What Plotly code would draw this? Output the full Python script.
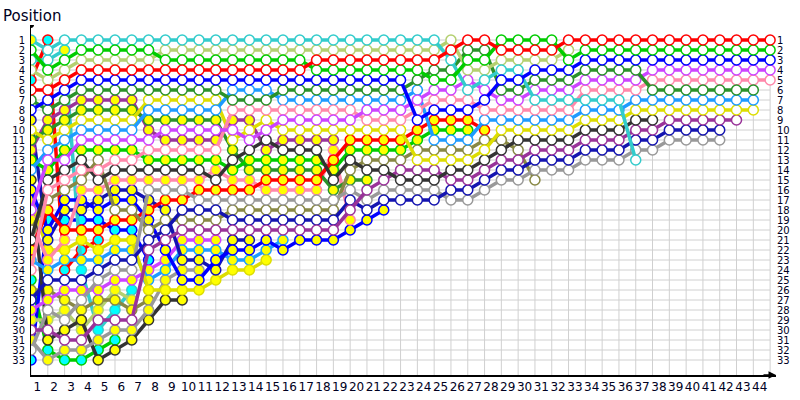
import plotly.graph_objects as go

# lap chart: running position of every car after each lap (lap 0 = starting grid)
laps = list(range(0, 45))
positions = list(range(1, 34))
lap_labels = [str(n) for n in range(1, 45)]

# cars shown with open markers
red = [6, 6, 5, 4] + [4] * 13 + [3] * 8 + [2, 1, 1, 2, 2, 2, 2] + [1] * 13
green = [2, 4, 3, 2, 2, 2, 2, 2] + [3] * 9 + [4] * 7 + [5, 5, 3, 3, 1, 1, 1, 1, 3] + [2] * 12
blue = [8, 7, 6] + [5] * 20 + [9, 8, 8, 8, 7, 5, 5, 4, 4, 4] + [3] * 12
dkgreen = [7, 8, 7] + [6] * 9 + [7, 7, 7] + [6] * 8 + [5, 4, 4, 2, 2, 6, 6, 5, 5, 5] + [4] * 4 + [6] * 7
violet = [18, 13, 13, 11, 11, 11, 11, 11, 10, 10, 10, 10, 10, 11, 10] + [9] * 5 + [8] * 3 \
    + [7, 6, 6, 5, 6, 7, 7, 6, 6, 6] + [5] * 4 + [4] * 8
pink = [24, 16, 15, 14, 14, 13, 13, 12, 12, 12, 12, 12] + [8] * 8 + [9] * 3 \
    + [8, 7, 7, 7, 8, 8, 8, 8, 8, 8] + [6] * 4 + [5] * 8
ltblue = [14, 12, 11, 10, 10, 10, 10, 8, 8, 8, 8, 8, 6, 6, 6] + [7] * 8 \
    + [6, 11, 11, 11, 9, 9, 9, 9, 9, 9] + [8] * 3 + [7] * 8
yellow = [10, 11, 10, 9, 9, 9, 9, 7, 7, 7, 7, 7, 11, 10, 9] + [10] * 8 \
    + [13, 13, 13, 13, 12, 10, 10, 10, 10, 10] + [9] * 3 + [8] * 8
purple = [30, 30, 31, 31, 29, 29, 29, 22, 21] + [20] * 10 \
    + [18, 16, 15, 14, 14, 14, 15, 15, 14, 13, 13, 12, 12, 12] + [11] * 3 + [10, 10] + [9] * 5
dkblue = [27, 25, 25, 25, 24, 23, 23, 21, 20, 18, 18, 18] + [19] * 7 \
    + [17, 18, 17, 17, 17, 17, 16, 16, 15, 14, 14, 13, 13, 13] + [12] * 3 + [11, 11] + [10] * 4
grey = [32, 28, 29, 27, 25, 24, 24, 16, 16, 16] + [17] * 9 \
    + [16, 17, 16, 16, 16, 16, 17, 17, 16, 15, 15, 14, 14, 14] + [13] * 3 + [12, 12] + [11] * 4
black = [21, 15, 14, 13, 15, 14, 14, 14, 14, 14, 14, 15, 13, 12, 11, 12, 12, 12, 15, 13,
         14, 14, 15, 15, 15, 14, 14, 13, 12, 11, 11, 11, 11, 10, 10, 10, 9, 9]
cyan = [1, 2] + [1] * 23 + [3, 6, 5, 4, 4, 7, 7, 7, 7, 7, 7, 13]
yellowgreen = [4, 5, 4] + [3] * 5 + [2] * 17 + [1, 4, 4, 3, 3, 3, 3, 2]
olive = [20, 17, 16, 15, 13, 18, 18, 20, 19, 19, 19, 19] + [18] * 7 \
    + [14, 13, 13, 13, 12, 12, 12, 12, 11, 11, 12, 15]

# cars shown with yellow markers
red_y = [22, 18, 20, 20, 20, 19, 19, 18, 17, 17, 16, 16, 16, 16, 15, 15, 15, 15, 13,
         11, 11, 11, 11, 10, 9, 9, 9, 10]
green_y = [13, 14, 12, 12, 12, 12, 12, 13, 13, 13, 13, 13, 14, 13, 13, 13, 13, 13, 14,
           12, 12, 12, 12, 11, 10, 10, 10]
dkgreen_y = [11, 10, 9, 8, 8, 8, 8, 9, 9, 9, 9, 9, 12, 14, 14, 14, 14, 14, 16, 15, 15]
purple_y = [12, 9, 8, 7, 7, 7, 7, 10, 11, 11, 11, 11, 9, 9, 12, 11, 11, 11, 11]
pink_y = [19, 23, 21, 16, 16, 15, 15, 15, 15, 15, 15, 14, 15, 15, 16, 16, 16, 16, 12, 19]
blue_y = [16, 20, 17, 17, 18, 17, 17, 19, 22, 25, 25, 23, 22, 22, 21, 22, 21, 21, 21, 20, 19, 18]
dkblue_y = [9, 21, 18, 18, 17, 16, 16, 17, 18, 23, 23, 24, 21, 21]
yellow_y = [17, 22, 22, 21, 22, 21, 21, 26, 26, 26, 26, 25, 24, 24, 23]
ltblue_y = [23, 24, 23, 23, 23, 22, 22, 25, 24, 22, 22, 22, 23, 23, 22, 21]
violet_y = [28, 27, 26, 26, 26, 25, 25, 24, 23, 21, 21, 21]
grey_y = [31, 33, 32, 32, 31, 30, 30, 28, 25, 24, 24]
black_y = [15, 31, 30, 29, 33, 32, 31, 29, 27, 27]
olive_y = [26, 26, 27, 28, 27, 27, 28, 27]
yellowgreen_y = [29, 29, 28, 30, 28, 26, 27]

# cars shown with cyan markers
blue_c = [33, 19, 19, 19, 19, 20, 20, 23]
cyan2 = [3, 3, 2, 24, 30, 28, 26]
green_c = [25, 32, 33, 33, 32, 31]
red_c = [5, 1, 24, 22, 21]

# marker fill per lap where it changes along a line (o = open, y = yellow, c = cyan)
cyan_marks = "y" + "o" * (len(cyan) - 1)
cyan2_marks = "ooycccc"

W, Y, C = "#ffffff", "#ffff00", "#00ffff"
fill_codes = {"o": W, "y": Y, "c": C}

cars = [
    (green_c, "#00cc00", C),
    (red_c, "#ff0000", C),
    (blue_c, "#0000ff", C),
    (cyan2, "#33cccc", [fill_codes[m] for m in cyan2_marks]),
    (yellowgreen_y, "#b4d070", Y),
    (olive_y, "#888844", Y),
    (black_y, "#333333", Y),
    (grey_y, "#999999", Y),
    (violet_y, "#cc44ff", Y),
    (ltblue_y, "#1e9bff", Y),
    (yellow_y, "#dddd00", Y),
    (dkblue_y, "#1414b0", Y),
    (blue_y, "#0000ff", Y),
    (pink_y, "#ff88aa", Y),
    (purple_y, "#993399", Y),
    (dkgreen_y, "#2a922a", Y),
    (green_y, "#00cc00", Y),
    (red_y, "#ff0000", Y),
    (olive, "#888844", W),
    (grey, "#999999", W),
    (dkblue, "#1414b0", W),
    (purple, "#993399", W),
    (black, "#333333", W),
    (yellow, "#dddd00", W),
    (ltblue, "#1e9bff", W),
    (pink, "#ff88aa", W),
    (violet, "#cc44ff", W),
    (dkgreen, "#2a922a", W),
    (yellowgreen, "#b4d070", W),
    (cyan, "#33cccc", [fill_codes[m] for m in cyan_marks]),
    (blue, "#0000ff", W),
    (green, "#00cc00", W),
    (red, "#ff0000", W),
]

fig = go.Figure()

# light grid: one column per lap, one row per position
shapes = []
for lap in laps:
    shapes.append(dict(type="line", xref="x", yref="y", x0=lap, x1=lap, y0=1, y1=34.5,
                       line=dict(color="#d0d0d0", width=1), layer="below"))
for p in positions:
    shapes.append(dict(type="line", xref="x", yref="y", x0=0, x1=44, y0=p, y1=p,
                       line=dict(color="#d0d0d0", width=1), layer="below"))
shapes.append(dict(type="circle", xref="x", yref="y", xsizemode="pixel", ysizemode="pixel",
                   xanchor=0, yanchor=-0.5, x0=-2.5, x1=2.5, y0=-2.5, y1=2.5,
                   fillcolor="black", line=dict(color="black", width=1)))

for pos, color, fill in cars:
    fig.add_trace(go.Scatter(
        x=laps[:len(pos)], y=pos, mode="lines+markers",
        line=dict(color=color, width=3.5),
        marker=dict(size=10, color=fill, line=dict(color=color, width=1.5)),
        showlegend=False, hoverinfo="skip",
    ))

# invisible trace so the right-hand position axis is drawn
fig.add_trace(go.Scatter(x=[0], y=[1], yaxis="y2", mode="markers",
                         marker=dict(opacity=0), showlegend=False, hoverinfo="skip"))

fig.update_layout(
    width=800, height=400,
    margin=dict(l=31, r=24, t=25, b=25, autoexpand=False),
    paper_bgcolor="white", plot_bgcolor="white",
    font=dict(family="DejaVu Sans", color="#000022"),
    shapes=shapes,
    xaxis=dict(range=[0, 44.35], tickvals=[n - 0.62 for n in range(1, 45)],
               ticktext=lap_labels, tickfont=dict(size=12), tickangle=0,
               showgrid=False, zeroline=False, showline=True, linecolor="black", linewidth=1.5,
               ticks="", automargin=False),
    yaxis=dict(range=[34.5, -0.5], tickvals=positions, ticktext=[str(p) for p in positions],
               tickfont=dict(size=10), showgrid=False, zeroline=False,
               showline=True, linecolor="black", linewidth=1, ticks="", automargin=False,
               ticklabelstandoff=3),
    yaxis2=dict(range=[34.5, -0.5], overlaying="y", side="right", tickvals=positions,
                ticktext=[str(p) for p in positions], tickfont=dict(size=10),
                showgrid=False, zeroline=False, showline=False, ticks="", automargin=False),
    annotations=[
        dict(text="Position", xref="paper", yref="paper", x=0.0013, y=1.026, xanchor="center",
             yanchor="middle", showarrow=False, font=dict(size=15)),
        dict(text="Laps", xref="x", yref="y", x=44.55, y=33.3, xanchor="right",
             yanchor="middle", showarrow=False, font=dict(size=15)),
        dict(text="", xref="x", yref="y", x=44.35, y=34.5, ax=-14, ay=0,
             showarrow=True, arrowhead=2, arrowsize=1, arrowwidth=1.5, arrowcolor="black"),
    ],
)

# page body has a default 8px margin; drop it so the 800x400 figure fills the window
fig.write_html("out.html", config={"displayModeBar": False},
               post_script="document.body.style.margin='0px';")
